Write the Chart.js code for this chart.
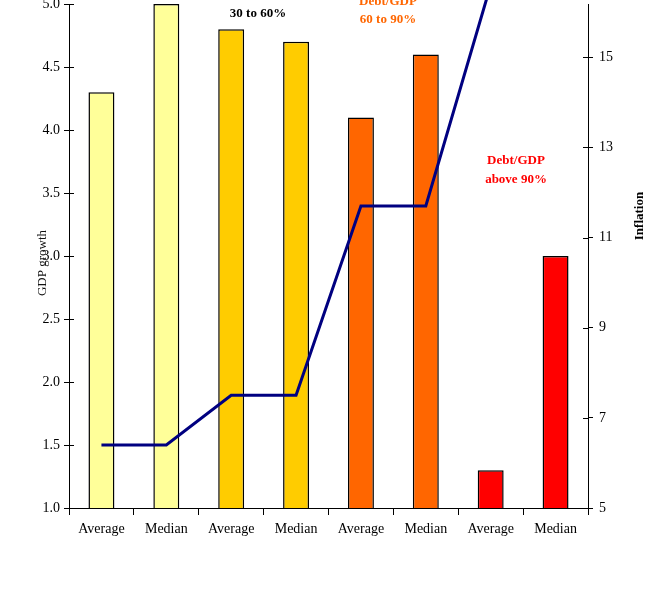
<!DOCTYPE html>
<html>
<head>
<meta charset="utf-8">
<script src="https://cdn.jsdelivr.net/npm/chart.js@4/dist/chart.umd.min.js"></script>
<style>
  body { margin: 0; background: #fff; }
  #wrap { width: 667px; height: 593px; }
</style>
</head>
<body>
<div id="wrap"><canvas id="debtChart" width="667" height="593"></canvas></div>
<script>
// datos
const categories = ['Average', 'Median', 'Average', 'Median', 'Average', 'Median', 'Average', 'Median'];
const gdpGrowth = [4.3, 5.0, 4.8, 4.7, 4.1, 4.6, 1.3, 3.0];
const inflation = [6.4, 6.4, 7.5, 7.5, 11.7, 11.7, 16.6, 17.5];
const barColors = ['#FFFF99', '#FFFF99', '#FFCC00', '#FFCC00', '#FF6600', '#FF6600', '#FF0000', '#FF0000'];
const leftTicks = [1.0, 1.5, 2.0, 2.5, 3.0, 3.5, 4.0, 4.5, 5.0];
const rightTicks = [5, 7, 9, 11, 13, 15];

const serif = '"Liberation Serif", "DejaVu Serif", serif';

// marcas de eje que cruzan hacia dentro y textos sueltos
const extrasPlugin = {
    id: 'extras',
    afterDraw(chart) {
        const ctx = chart.ctx;
        const yL = chart.scales.y;
        const yR = chart.scales.y2;
        ctx.save();
        ctx.strokeStyle = '#000';
        ctx.lineWidth = 1;
        yL.ticks.forEach(t => {
            const py = Math.round(yL.getPixelForValue(t.value)) + 0.5;
            ctx.beginPath();
            ctx.moveTo(yL.right, py);
            ctx.lineTo(yL.right + 5, py);
            ctx.stroke();
        });
        yR.ticks.forEach(t => {
            const py = Math.round(yR.getPixelForValue(t.value)) + 0.5;
            ctx.beginPath();
            ctx.moveTo(yR.left - 5, py);
            ctx.lineTo(yR.left, py);
            ctx.stroke();
        });

        // titulos de ejes
        ctx.fillStyle = '#111';
        ctx.font = '13px ' + serif;
        ctx.textAlign = 'center';
        ctx.textBaseline = 'middle';
        ctx.save();
        ctx.translate(43, 263);
        ctx.rotate(-Math.PI / 2);
        ctx.fillText('GDP growth', 0, 0);
        ctx.restore();

        ctx.fillStyle = '#000';
        ctx.font = 'bold 13px ' + serif;
        ctx.save();
        ctx.translate(640, 216);
        ctx.rotate(-Math.PI / 2);
        ctx.fillText('Inflation', 0, 0);
        ctx.restore();

        // etiquetas de grupos
        ctx.font = 'bold 13px ' + serif;
        ctx.fillStyle = '#000';
        ctx.fillText('30 to 60%', 258, 14);
        ctx.fillStyle = '#FF6600';
        ctx.fillText('Debt/GDP', 388, 2);
        ctx.fillText('60 to 90%', 388, 20);
        ctx.fillStyle = '#FF0000';
        ctx.fillText('Debt/GDP', 516, 161);
        ctx.fillText('above 90%', 516, 180);
        ctx.restore();
    }
};

new Chart(document.getElementById('debtChart').getContext('2d'), {
    type: 'bar',
    data: {
        labels: categories,
        datasets: [{
            type: 'line',
            label: 'Inflation',
            data: inflation,
            yAxisID: 'y2',
            borderColor: '#000080',
            borderWidth: 3,
            pointRadius: 0,
            tension: 0,
            clip: false
        }, {
            label: 'GDP growth',
            data: gdpGrowth,
            yAxisID: 'y',
            backgroundColor: barColors,
            borderColor: '#000',
            borderWidth: 1.5,
            barPercentage: 0.4,
            categoryPercentage: 1.0
        }]
    },
    options: {
        responsive: false,
        animation: false,
        layout: { padding: { top: 4, left: 0, right: 0, bottom: 0 } },
        plugins: {
            legend: { display: false },
            tooltip: { enabled: false }
        },
        scales: {
            x: {
                grid: { display: true, drawOnChartArea: false, tickLength: 7, color: '#000', offset: true },
                border: { color: '#000', width: 1 },
                ticks: { color: '#000', font: { family: serif, size: 14 }, padding: 6, maxRotation: 0 },
                afterFit: scale => { scale.height = 85; }
            },
            y: {
                position: 'left',
                min: 1,
                max: 5,
                afterBuildTicks: scale => { scale.ticks = leftTicks.map(v => ({ value: v })); },
                grid: { drawOnChartArea: false, tickLength: 5, color: '#000' },
                border: { color: '#000', width: 1 },
                ticks: {
                    color: '#000',
                    font: { family: serif, size: 14 },
                    padding: 4,
                    callback: v => Number(v).toFixed(1)
                },
                afterFit: scale => {
                    scale.width = 69;
                    scale.paddingTop = 0;
                    scale.paddingBottom = 0;
                }
            },
            y2: {
                position: 'right',
                min: 5,
                max: 16.18,
                afterBuildTicks: scale => { scale.ticks = rightTicks.map(v => ({ value: v })); },
                grid: { drawOnChartArea: false, tickLength: 5, color: '#000' },
                border: { color: '#000', width: 1 },
                ticks: { color: '#000', font: { family: serif, size: 14 }, padding: 6 },
                afterFit: scale => {
                    scale.width = 79;
                    scale.paddingTop = 0;
                    scale.paddingBottom = 0;
                }
            }
        }
    },
    plugins: [extrasPlugin]
});
</script>
</body>
</html>
